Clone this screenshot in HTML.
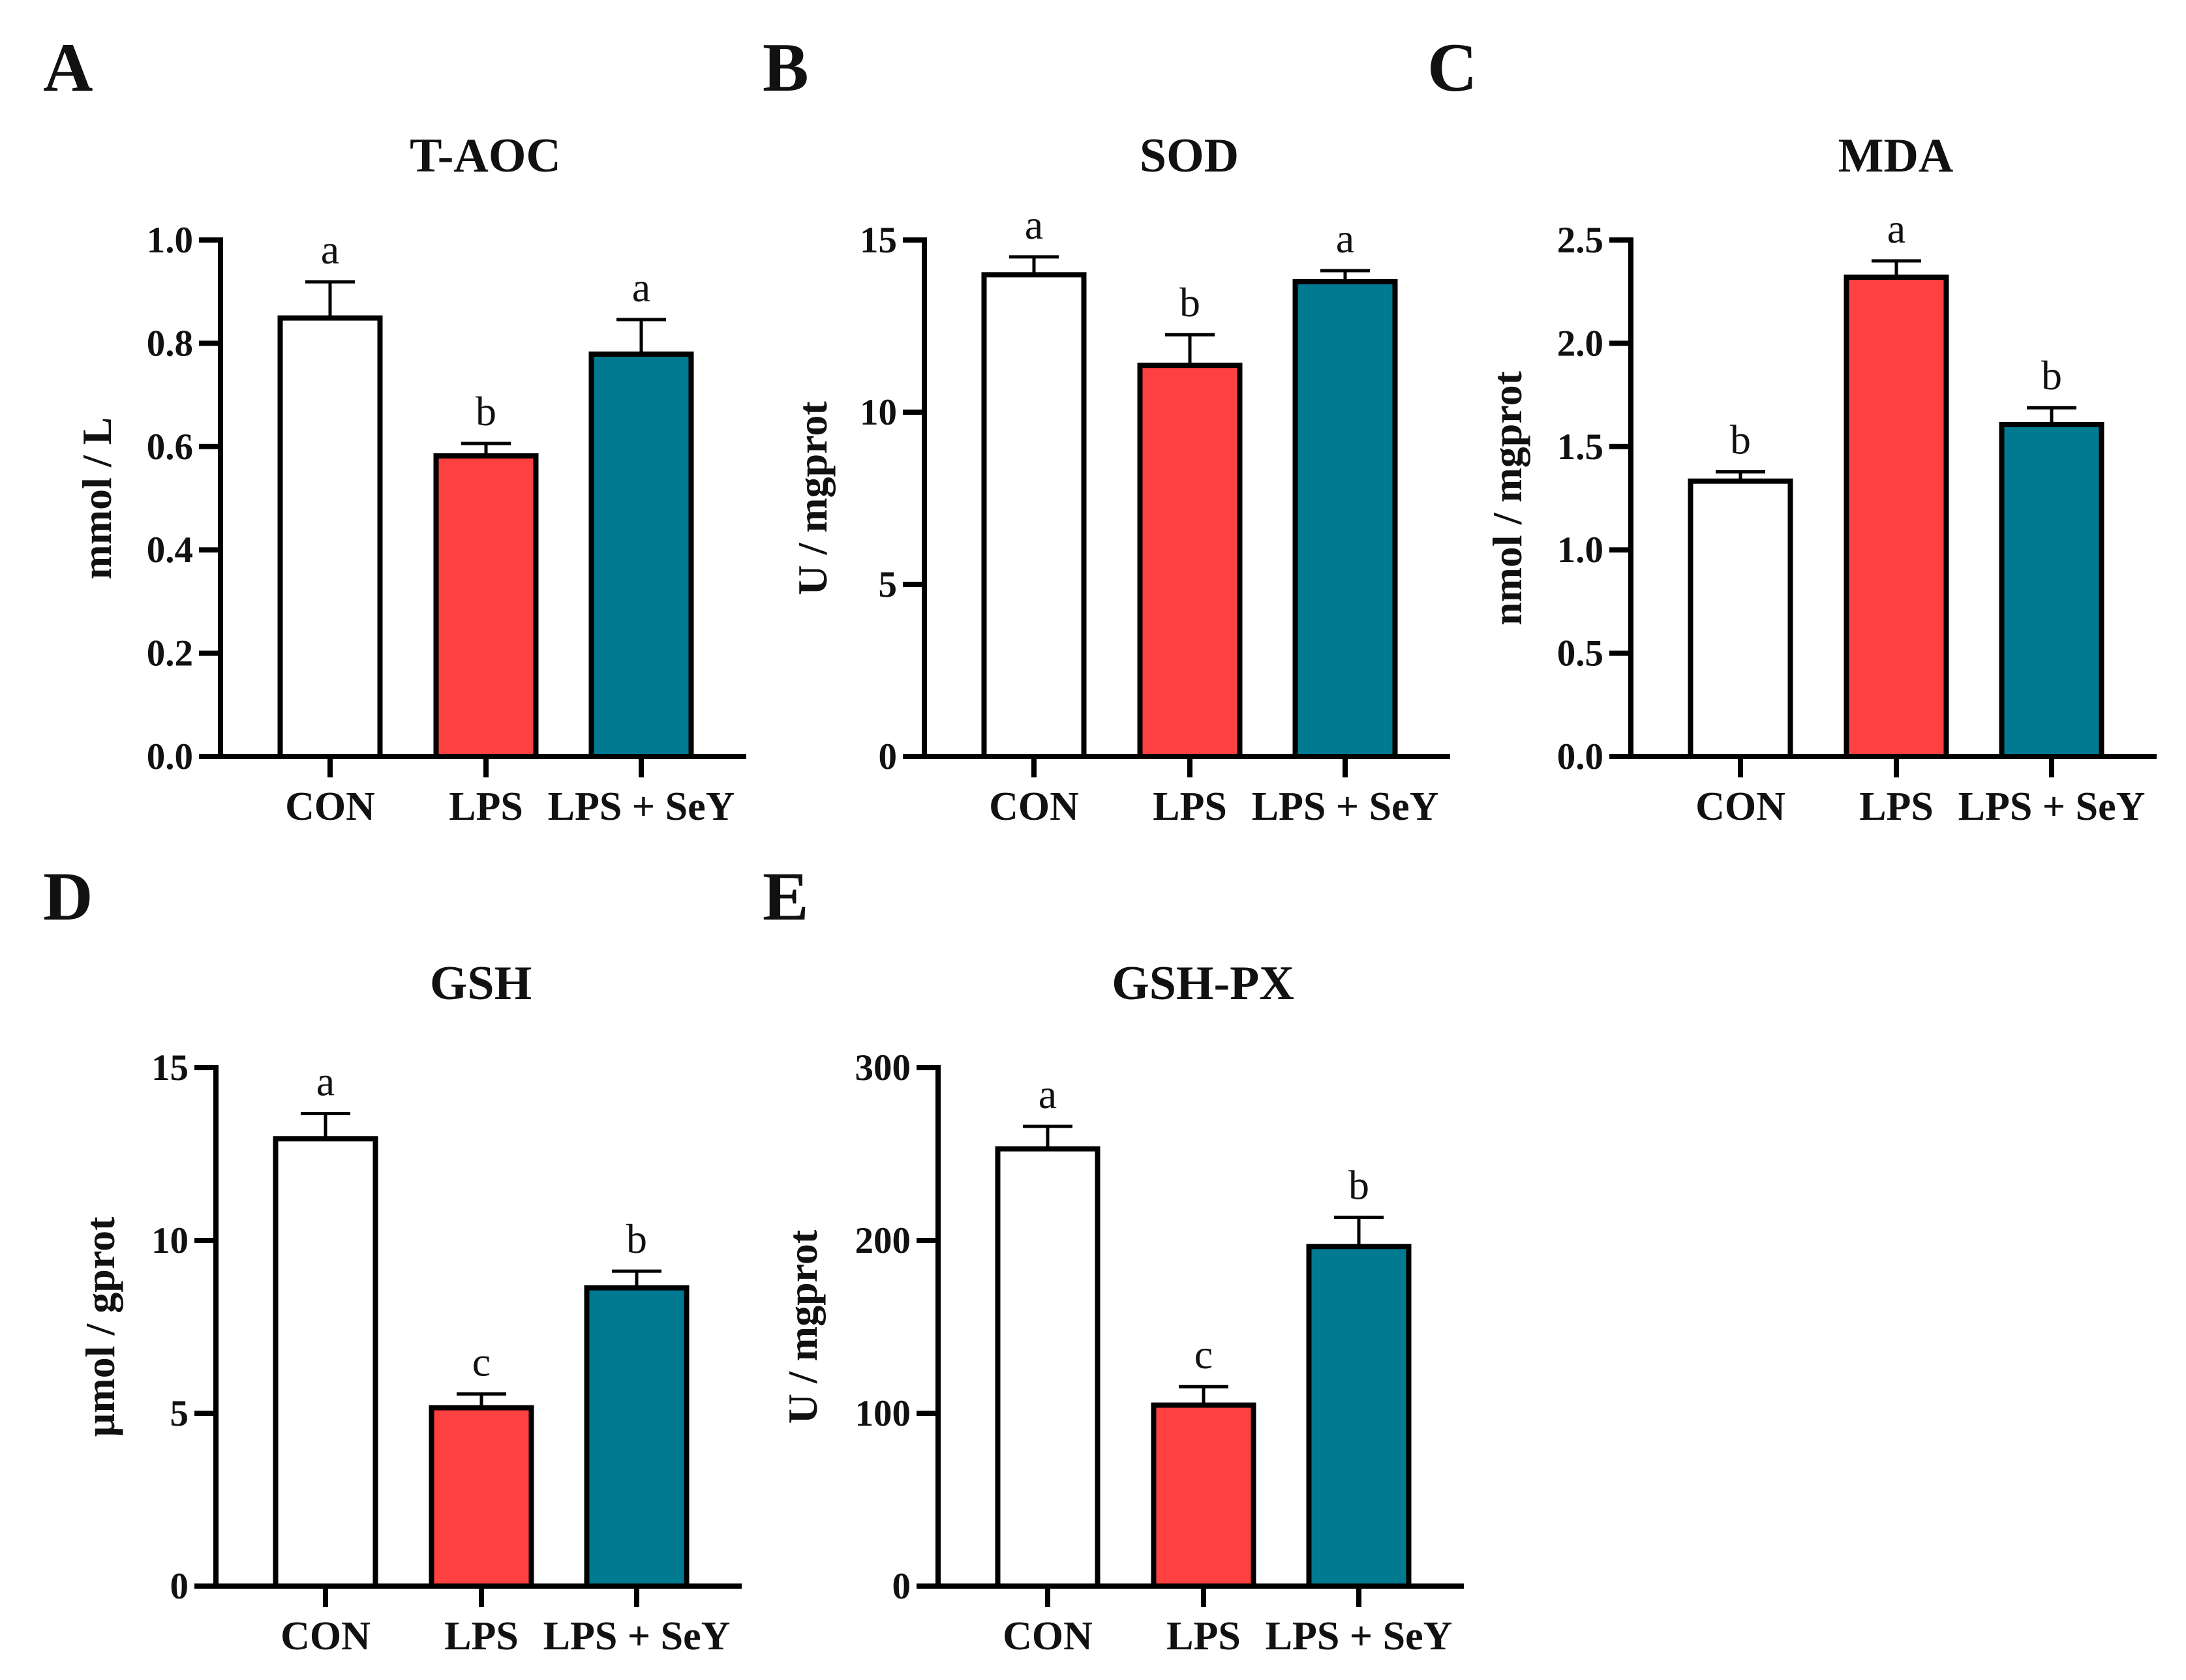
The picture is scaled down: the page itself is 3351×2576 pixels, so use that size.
<!DOCTYPE html>
<html><head><meta charset="utf-8"><style>
html,body{margin:0;padding:0;background:#fff}
svg{display:block}
text{font-family:"Liberation Serif",serif;fill:#111}
</style></head><body>
<svg id="fig" width="3351" height="2576" viewBox="0 0 3351 2576" xmlns="http://www.w3.org/2000/svg"></svg>
<script>
const categories = ["CON","LPS","LPS + SeY"];
const barColors = ["#ffffff","#ff4040","#007a91"];
const tAocValues = [0.849, 0.582, 0.779];
const tAocErrors = [0.919, 0.606, 0.846];
const tAocLetters = ["a","b","a"];
const tAocTicks = ["0.0","0.2","0.4","0.6","0.8","1.0"];
const sodValues = [13.99, 11.36, 13.79];
const sodErrors = [14.51, 12.25, 14.11];
const sodLetters = ["a","b","a"];
const sodTicks = ["0","5","10","15"];
const mdaValues = [1.333, 2.320, 1.607];
const mdaErrors = [1.378, 2.399, 1.688];
const mdaLetters = ["b","a","b"];
const mdaTicks = ["0.0","0.5","1.0","1.5","2.0","2.5"];
const gshValues = [12.94, 5.16, 8.63];
const gshErrors = [13.67, 5.56, 9.11];
const gshLetters = ["a","c","b"];
const gshTicks = ["0","5","10","15"];
const gpxValues = [253, 104.7, 196.5];
const gpxErrors = [266, 115.4, 213.4];
const gpxLetters = ["a","c","b"];
const gpxTicks = ["0","100","200","300"];

const NS="http://www.w3.org/2000/svg";
const svg=document.getElementById('fig');
function mk(tag,attrs,parent,txt){const e=document.createElementNS(NS,tag);for(const k in attrs)e.setAttribute(k,attrs[k]);if(txt!==undefined)e.textContent=txt;(parent||svg).appendChild(e);return e;}

function panel(o){
  const g=mk('g',{});
  
  
  const ax=o.ax, top=o.top, bot=o.bot, len=806;
  const ticks=o.ticks, maxV=parseFloat(ticks[ticks.length-1]);
  const y=v=>bot-(v/maxV)*(bot-top);
  const lw=8;
  const L=mk('text',{x:o.lx,y:o.ly,'font-size':106,'font-weight':'bold'},g,o.letter);
  
  
  const T=mk('text',{x:ax+406,y:top-105,'font-size':74,'font-weight':'bold','text-anchor':'middle'},g,o.title);
  
  
  const yl=mk('text',{x:0,y:0,'font-size':64,'font-weight':'bold','text-anchor':'middle',transform:`translate(${ax-o.ylOff},${(top+bot)/2}) rotate(-90)`},g,o.ylabel);
  
  
  const centers=[168,407,645];
  const bw=153;
  o.values.forEach((v,i)=>{
    const cx=ax+centers[i];
    const r=mk('rect',{x:cx-bw/2,y:y(v),width:bw,height:bot-y(v),fill:barColors[i],stroke:'#000','stroke-width':lw},g);
    
    
    const e=o.errors[i];
    mk('line',{x1:cx,x2:cx,y1:y(v),y2:y(e),stroke:'#000','stroke-width':5},g);
    const cap=mk('line',{x1:cx-38,x2:cx+38,y1:y(e),y2:y(e),stroke:'#000','stroke-width':5},g);
    
    
    const s=mk('text',{x:cx,y:y(e)-28,'font-size':64,'text-anchor':'middle'},g,o.letters[i]);
    
    
    mk('line',{x1:cx,x2:cx,y1:bot,y2:bot+32,stroke:'#000','stroke-width':lw},g);
    const c=mk('text',{x:cx,y:bot+97,'font-size':62,'font-weight':'bold','text-anchor':'middle'},g,categories[i]);
    
    
  });
  ticks.forEach(t=>{
    const ty=y(parseFloat(t));
    mk('line',{x1:ax-33,x2:ax,y1:ty,y2:ty,stroke:'#000','stroke-width':lw},g);
    const tl=mk('text',{x:ax-42,y:ty+19,'font-size':57,'font-weight':'bold','text-anchor':'end'},g,t);
    
    
  });
  const ya=mk('line',{x1:ax,x2:ax,y1:top-4,y2:bot+4,stroke:'#000','stroke-width':lw},g);
  
  
  const xa=mk('line',{x1:ax-33,x2:ax+len,y1:bot,y2:bot,stroke:'#000','stroke-width':lw},g);
  
  
}
panel({id:'t-aoc',letter:'A',lx:66,ly:139,title:'T-AOC',ylabel:'mmol / L',ax:338,top:368,bot:1160,ylOff:168,ticks:tAocTicks,values:tAocValues,errors:tAocErrors,letters:tAocLetters});
panel({id:'sod',letter:'B',lx:1169,ly:139,title:'SOD',ylabel:'U / mgprot',ax:1417,top:368,bot:1160,ylOff:150,ticks:sodTicks,values:sodValues,errors:sodErrors,letters:sodLetters});
panel({id:'mda',letter:'C',lx:2188,ly:139,title:'MDA',ylabel:'nmol / mgprot',ax:2500,top:368,bot:1160,ylOff:168,ticks:mdaTicks,values:mdaValues,errors:mdaErrors,letters:mdaLetters});
panel({id:'gsh',letter:'D',lx:66,ly:1410,title:'GSH',ylabel:'µmol / gprot',ax:331,top:1637,bot:2432,ylOff:156,ticks:gshTicks,values:gshValues,errors:gshErrors,letters:gshLetters});
panel({id:'gsh-px',letter:'E',lx:1169,ly:1410,title:'GSH-PX',ylabel:'U / mgprot',ax:1438,top:1637,bot:2432,ylOff:186,ticks:gpxTicks,values:gpxValues,errors:gpxErrors,letters:gpxLetters});
</script>
</body></html>
